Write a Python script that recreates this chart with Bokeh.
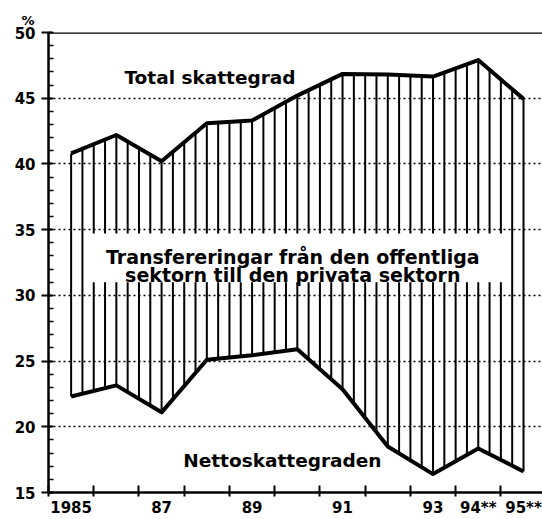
import numpy as np
from bokeh.plotting import figure
from bokeh.models import FixedTicker, Range1d, Label, Span
from bokeh.embed import file_html
from bokeh.resources import INLINE

# ---- data ----
years = [1985, 1986, 1987, 1988, 1989, 1990, 1991, 1992, 1993, 1994, 1995]
total_skattegrad = [40.8, 42.2, 40.2, 43.1, 43.3, 45.2, 46.85, 46.8, 46.65, 47.9, 44.95]
nettoskattegraden = [22.3, 23.15, 21.1, 25.1, 25.45, 25.9, 22.85, 18.5, 16.4, 18.35, 16.6]
x_label_years = [1985, 1987, 1989, 1991, 1993, 1994, 1995]
x_label_texts = ["1985", "87", "89", "91", "93", "94**", "95**"]
y_ticks = [15, 20, 25, 30, 35, 40, 45, 50]
y_grid = [20, 25, 30, 35, 40, 45]

FONT = "DejaVu Sans"

p = figure(width=542, height=519, output_backend="svg", toolbar_location=None,
           x_range=Range1d(1984.5, 1995.42), y_range=Range1d(15, 50),
           min_border_left=48, min_border_right=0, min_border_top=32, min_border_bottom=26)
p.outline_line_color = None
p.background_fill_color = "white"
p.border_fill_color = "white"

# "%" unit label above the y axis
p.title.text = "%"
p.title.align = "left"
p.title.offset = -27
p.title.standoff = 9
p.title.text_font = FONT
p.title.text_font_style = "bold"
p.title.text_font_size = "13px"
p.title.text_color = "black"

# hatching between the two curves
hx = 1985 + 0.25 * np.arange(41)
lo = np.interp(hx, years, nettoskattegraden)
hi = np.interp(hx, years, total_skattegrad)
p.segment(hx, lo, hx, hi, line_color="black", line_width=2)

# white area behind the centre text
p.quad(left=[1985.3], right=[1994.7], bottom=[31.0], top=[34.7],
       fill_color="white", line_color=None)

# curves
p.line(years, total_skattegrad, line_color="black", line_width=4, line_join="round")
p.line(years, nettoskattegraden, line_color="black", line_width=4, line_join="round")

# top solid line at 50
p.add_layout(Span(location=50, dimension="width", line_color="black", line_width=2.5))

# grid
p.xgrid.visible = False
p.ygrid.ticker = FixedTicker(ticks=y_grid)
p.ygrid.grid_line_color = "black"
p.ygrid.grid_line_dash = "2 3"
p.ygrid.grid_line_width = 1.5

# y axis
ya = p.yaxis[0]
ya.ticker = FixedTicker(ticks=y_ticks, minor_ticks=list(range(15, 51)))
ya.axis_line_width = 2.5
ya.major_tick_line_width = 2
ya.major_tick_in = 4
ya.major_tick_out = 7
ya.minor_tick_in = 5
ya.minor_tick_out = 0
ya.minor_tick_line_width = 1.5
ya.major_label_standoff = 6
ya.major_label_text_font = FONT
ya.major_label_text_font_style = "bold"
ya.major_label_text_font_size = "15px"
ya.major_label_text_color = "black"

# x axis
xa = p.xaxis[0]
xa.ticker = FixedTicker(ticks=x_label_years, minor_ticks=[y - 0.5 for y in years] + [1995.5])
xa.major_label_overrides = {yr: t for yr, t in zip(x_label_years, x_label_texts)}
xa.axis_line_width = 2.5
xa.major_tick_in = 0
xa.major_tick_out = 0
xa.minor_tick_in = 7
xa.minor_tick_out = 4
xa.minor_tick_line_width = 2
xa.major_label_standoff = 2
xa.major_label_text_font = FONT
xa.major_label_text_font_style = "bold"
xa.major_label_text_font_size = "15px"
xa.major_label_text_color = "black"

def lab(x, y, text, size="18.5px", baseline="alphabetic", align="center"):
    p.add_layout(Label(x=x, y=y, text=text, text_font=FONT, text_font_style="bold",
                       text_font_size=size, text_align=align, text_baseline=baseline,
                       text_color="black"))

lab(1988.07, 46.6, "Total skattegrad")
lab(1989.67, 17.45, "Nettoskattegraden")
lab(1989.9, 32.95, "Transfereringar från den offentliga", size="19px")
lab(1989.9, 31.55, "sektorn till den privata sektorn", size="19px")

# chart title, cut off at the top edge as in the reference (screen units from frame bottom)
p.add_layout(Label(x=222, y=489, x_units="screen", y_units="screen",
                   text="FIGUR 7. SKATTEGRADEN", text_font=FONT, text_font_style="bold",
                   text_font_size="19px", text_align="center", text_baseline="alphabetic",
                   text_color="black"))

open("out.html", "w").write(file_html(p, INLINE))
